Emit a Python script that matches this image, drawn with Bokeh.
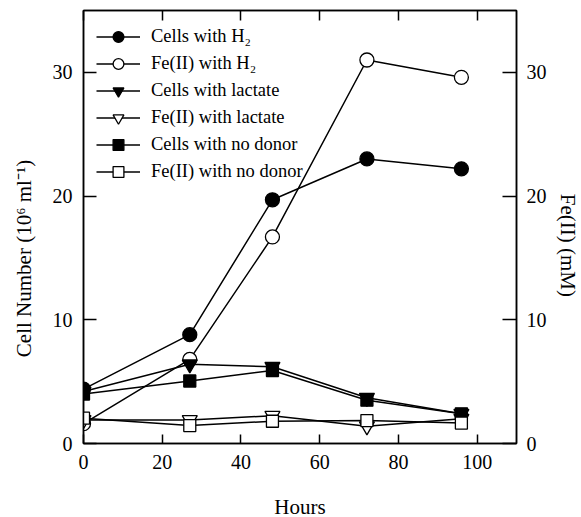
from bokeh.plotting import figure
from bokeh.models import LinearAxis, Range1d, FixedTicker
from bokeh.embed import file_html
from bokeh.resources import INLINE

hours = [0, 27, 48, 72, 96]
cells_h2 = [4.4, 8.8, 19.7, 23.0, 22.2]
fe_h2 = [1.6, 6.8, 16.7, 31.0, 29.6]
cells_lac = [4.2, 6.4, 6.2, 3.7, 2.4]
fe_lac = [1.9, 1.9, 2.25, 1.4, 2.0]
cells_nod = [4.0, 5.05, 5.9, 3.5, 2.4]
fe_nod = [2.05, 1.45, 1.8, 1.85, 1.65]

x_ticks = [0, 20, 40, 60, 80, 100]
y_ticks = [0, 10, 20, 30]

FONT = "Liberation Serif"

p = figure(x_range=Range1d(0, 110), y_range=Range1d(0, 35),
           frame_width=433, frame_height=433,
           min_border_left=83, min_border_right=62, min_border_top=10, min_border_bottom=70,
           output_backend="svg", toolbar_location=None)
p.extra_y_ranges = {"fe": Range1d(0, 35)}

p.xgrid.visible = False
p.ygrid.visible = False
p.outline_line_color = "black"
p.outline_line_width = 1.5
p.background_fill_color = "white"
p.border_fill_color = "white"


def style_axis(ax, ticks, tick_len, label_size="20px", standoff=11):
    ax.ticker = FixedTicker(ticks=ticks)
    ax.minor_tick_line_color = None
    ax.major_tick_in = tick_len
    ax.major_tick_out = 0
    ax.major_tick_line_color = "black"
    ax.major_tick_line_width = 1.5
    ax.axis_line_color = "black"
    ax.axis_line_width = 1.5
    ax.major_label_text_font = FONT
    ax.major_label_text_font_size = label_size
    ax.major_label_text_color = "black"
    ax.major_label_standoff = standoff
    ax.axis_label_text_font = FONT
    ax.axis_label_text_font_size = "21px"
    ax.axis_label_text_font_style = "normal"
    ax.axis_label_text_color = "black"


xa = p.xaxis[0]
style_axis(xa, x_ticks, 9)
xa.axis_label = "Hours"
xa.axis_label_standoff = 23

ya = p.yaxis[0]
style_axis(ya, y_ticks, 13)
ya.axis_label = "Cell Number (10\u2076 ml\u207b\u00b9)" + "\u00a0" * 12
ya.axis_label_standoff = 14

ra = LinearAxis(y_range_name="fe")
style_axis(ra, y_ticks, 14, standoff=10)
ra.axis_label = "\u00a0" * 7 + "Fe(II) (mM)"
ra.axis_label_standoff = 6
p.add_layout(ra, "right")

ta = LinearAxis()
style_axis(ta, x_ticks, 10, label_size="1px", standoff=0)
ta.major_label_text_color = None
ta.axis_label = None
p.add_layout(ta, "above")

series = [
    ("Cells with H\u2082", cells_h2, "circle", "black", 14),
    ("Fe(II) with H\u2082", fe_h2, "circle", "white", 14),
    ("Cells with lactate", cells_lac, "inverted_triangle", "black", 15),
    ("Fe(II) with lactate", fe_lac, "inverted_triangle", "white", 15),
    ("Cells with no donor", cells_nod, "square", "black", 12),
    ("Fe(II) with no donor", fe_nod, "square", "white", 12),
]

for label, vals, marker, fill, size in series:
    p.line(hours, vals, line_color="black", line_width=1.5, legend_label=label)
    p.scatter(hours, vals, marker=marker, size=size, fill_color=fill,
              line_color="black", line_width=1.3, legend_label=label)

lg = p.legend[0]
lg.location = "top_left"
lg.border_line_color = None
lg.background_fill_alpha = 0
lg.label_text_font = FONT
lg.label_text_font_size = "18.5px"
lg.label_text_color = "black"
lg.glyph_width = 44
lg.glyph_height = 27
lg.label_height = 20
lg.label_standoff = 11
lg.spacing = 0
lg.padding = 12
lg.margin = 13

open("out.html", "w").write(file_html(p, INLINE))
